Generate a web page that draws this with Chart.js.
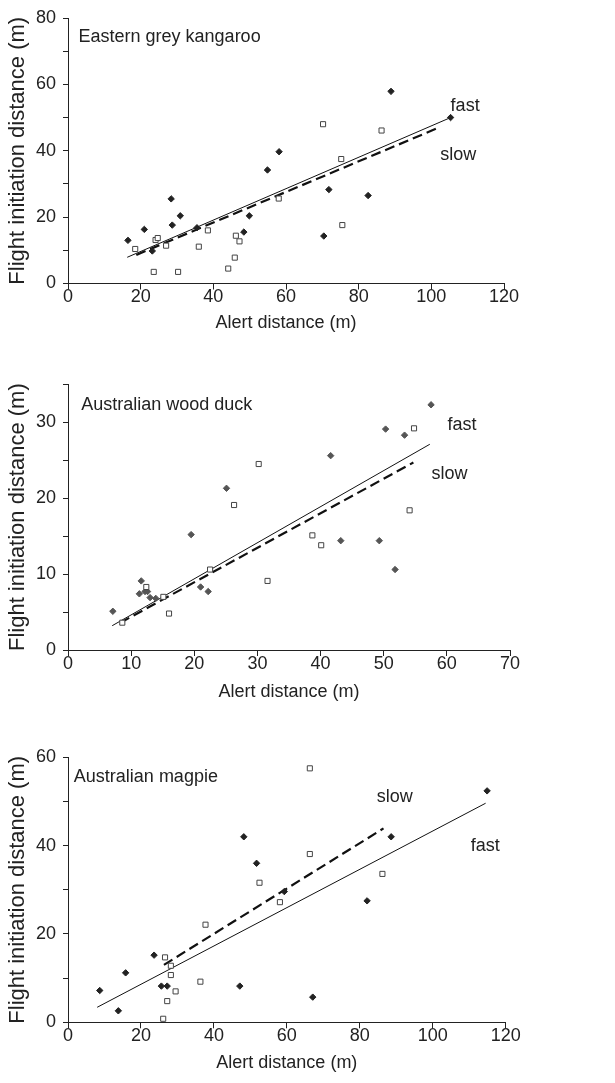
<!DOCTYPE html>
<html lang="en">
<head>
<meta charset="UTF-8">
<title>Flight initiation distance vs alert distance</title>
<script src="https://cdn.jsdelivr.net/npm/chart.js"></script>
<style>
  body { margin: 0; background: #fff; }
  .panel { position: absolute; left: 0; width: 615px; }
</style>
</head>
<body>
<div class="panel" style="top:0;height:340px"><canvas id="kangaroo"></canvas></div>
<div class="panel" style="top:340px;height:370px"><canvas id="duck"></canvas></div>
<div class="panel" style="top:710px;height:373px"><canvas id="magpie"></canvas></div>

<script>
// Eastern grey kangaroo
var kangFastX = [16.5, 21.0, 23.2, 28.4, 28.7, 30.9, 35.5, 48.4, 49.9, 54.9, 58.1, 70.4, 71.8, 82.6, 88.9, 105.3];
var kangFastY = [13.0, 16.3, 9.8, 25.5, 17.6, 20.4, 16.8, 15.5, 20.4, 34.2, 39.7, 14.3, 28.3, 26.5, 57.9, 50.0];
var kangSlowX = [18.5, 23.6, 24.1, 24.7, 27.0, 30.3, 36.0, 38.5, 44.1, 45.9, 46.2, 47.2, 58.0, 70.2, 75.2, 75.5, 86.3];
var kangSlowY = [10.4, 3.5, 13.1, 13.7, 11.4, 3.5, 11.1, 16.0, 4.5, 7.8, 14.4, 12.7, 25.6, 48.0, 37.5, 17.6, 46.1];
var kangFastFitX = [16.3, 105.3];
var kangFastFitY = [7.9, 50.0];
var kangSlowFitX = [18.8, 101.9];
var kangSlowFitY = [8.6, 46.9];

// Australian wood duck
var duckFastX = [7.1, 11.3, 11.6, 12.2, 12.6, 13.0, 13.9, 19.5, 21.0, 22.2, 25.1, 41.6, 43.2, 49.3, 50.3, 51.8, 53.3, 57.5];
var duckFastY = [5.1, 7.4, 9.1, 7.7, 7.7, 6.9, 6.8, 15.2, 8.3, 7.7, 21.3, 25.6, 14.4, 14.4, 29.1, 10.6, 28.3, 32.3];
var duckSlowX = [8.6, 12.4, 15.1, 16.0, 22.5, 26.3, 30.2, 31.6, 38.7, 40.1, 54.1, 54.8];
var duckSlowY = [3.6, 8.3, 7.0, 4.8, 10.6, 19.1, 24.5, 9.1, 15.1, 13.8, 18.4, 29.2];
var duckFastFitX = [7.0, 57.3];
var duckFastFitY = [3.2, 27.1];
var duckSlowFitX = [8.3, 54.7];
var duckSlowFitY = [3.6, 24.7];

// Australian magpie
var magFastX = [8.7, 13.8, 15.8, 23.6, 25.6, 27.2, 47.1, 48.2, 51.7, 59.3, 67.1, 82.0, 88.6, 114.9];
var magFastY = [7.2, 2.6, 11.2, 15.2, 8.2, 8.2, 8.2, 42.0, 36.0, 29.6, 5.7, 27.5, 42.0, 52.4];
var magSlowX = [26.1, 26.6, 27.2, 28.2, 28.2, 29.5, 36.3, 37.7, 52.5, 58.1, 66.3, 66.3, 86.2];
var magSlowY = [0.8, 14.7, 4.8, 12.8, 10.7, 7.0, 9.2, 22.1, 31.6, 27.2, 57.5, 38.1, 33.6];
var magFastFitX = [8.0, 114.5];
var magFastFitY = [3.4, 49.6];
var magSlowFitX = [26.3, 86.5];
var magSlowFitY = [13.0, 43.9];

var FONT = '"Liberation Sans", Arial, sans-serif';
var INK = '#222';

function pairs(xs, ys) {
    return xs.map(function (x, i) { return { x: x, y: ys[i] }; });
}

// writes the species name and the fast / slow tags inside the plot
var textLabels = {
    id: 'textLabels',
    afterDatasetsDraw: function (chart, args, opts) {
        var ctx = chart.ctx, x = chart.scales.x, y = chart.scales.y;
        ctx.save();
        ctx.font = '18px ' + FONT;
        ctx.fillStyle = INK;
        ctx.textBaseline = 'middle';
        opts.items.forEach(function (it) {
            ctx.textAlign = it.align || 'center';
            ctx.fillText(it.text, x.getPixelForValue(it.x), y.getPixelForValue(it.y));
        });
        ctx.restore();
    }
};

function makePanel(id, p) {
    new Chart(document.getElementById(id), {
        type: 'scatter',
        data: {
            datasets: [
                { label: 'fast fit', type: 'line', data: pairs(p.fastFitX, p.fastFitY),
                  borderColor: '#111', borderWidth: 1, pointRadius: 0, order: 3 },
                { label: 'slow fit', type: 'line', data: pairs(p.slowFitX, p.slowFitY),
                  borderColor: '#111', borderWidth: 2.2, borderDash: [10, 5], pointRadius: 0, order: 2 },
                { label: 'fast', data: pairs(p.fastX, p.fastY), pointStyle: 'rectRot', pointRadius: 3.2,
                  backgroundColor: p.dot, borderColor: p.dot, borderWidth: 1, order: 1 },
                { label: 'slow', data: pairs(p.slowX, p.slowY), pointStyle: 'rect', pointRadius: 3.6,
                  backgroundColor: '#fff', borderColor: '#444', borderWidth: 1, order: 0 }
            ]
        },
        options: {
            responsive: true,
            maintainAspectRatio: false,
            animation: false,
            layout: { padding: { left: 0, top: p.top, right: 615 - p.right, bottom: 0 } },
            plugins: {
                legend: { display: false },
                tooltip: { enabled: false },
                textLabels: { items: p.labels }
            },
            scales: {
                x: {
                    type: 'linear', min: 0, max: p.xMax,
                    ticks: { stepSize: p.xStep, autoSkip: false, maxRotation: 0, color: INK, padding: -1,
                             font: { family: FONT, size: 18, lineHeight: 1 } },
                    grid: { display: true, drawOnChartArea: false, drawTicks: true, tickLength: 6, color: INK },
                    border: { display: true, color: INK, width: 1 },
                    title: { display: true, text: 'Alert distance (m)', color: INK,
                             font: { family: FONT, size: 18 }, padding: { top: 0, bottom: p.xTitlePad } },
                    afterFit: function (s) { s.height = p.xH; }
                },
                y: {
                    type: 'linear', min: 0, max: p.yMax,
                    ticks: { stepSize: p.yStep, autoSkip: false, color: INK, padding: 7,
                             font: { family: FONT, size: 18 },
                             callback: function (v) { return v % p.yLabelStep === 0 ? v : ''; } },
                    grid: { display: true, drawOnChartArea: false, drawTicks: true, tickLength: 5, color: INK },
                    border: { display: true, color: INK, width: 1 },
                    title: { display: true, text: 'Flight initiation distance (m)', color: INK,
                             font: { family: FONT, size: 22 }, padding: { top: 5, bottom: 0 } },
                    afterFit: function (s) { s.width = 68; }
                }
            }
        },
        plugins: [textLabels]
    });
}

makePanel('kangaroo', {
    fastX: kangFastX, fastY: kangFastY, slowX: kangSlowX, slowY: kangSlowY,
    fastFitX: kangFastFitX, fastFitY: kangFastFitY, slowFitX: kangSlowFitX, slowFitY: kangSlowFitY,
    dot: '#222', xMax: 120, xStep: 20, yMax: 80, yStep: 10, yLabelStep: 20,
    top: 18, right: 504, xH: 56.5, xTitlePad: 6,
    labels: [
        { text: 'Eastern grey kangaroo', x: 2.9, y: 74.3, align: 'left' },
        { text: 'fast', x: 109.3, y: 53.4 },
        { text: 'slow', x: 107.4, y: 38.7 }
    ]
});

makePanel('duck', {
    fastX: duckFastX, fastY: duckFastY, slowX: duckSlowX, slowY: duckSlowY,
    fastFitX: duckFastFitX, fastFitY: duckFastFitY, slowFitX: duckSlowFitX, slowFitY: duckSlowFitY,
    dot: '#555', xMax: 70, xStep: 10, yMax: 35, yStep: 5, yLabelStep: 10,
    top: 44.3, right: 510, xH: 60, xTitlePad: 7,
    labels: [
        { text: 'Australian wood duck', x: 2.1, y: 32.3, align: 'left' },
        { text: 'fast', x: 62.4, y: 29.6 },
        { text: 'slow', x: 60.4, y: 23.2 }
    ]
});

makePanel('magpie', {
    fastX: magFastX, fastY: magFastY, slowX: magSlowX, slowY: magSlowY,
    fastFitX: magFastFitX, fastFitY: magFastFitY, slowFitX: magSlowFitX, slowFitY: magSlowFitY,
    dot: '#222', xMax: 120, xStep: 20, yMax: 60, yStep: 10, yLabelStep: 20,
    top: 47.3, right: 505.7, xH: 60.7, xTitlePad: 9,
    labels: [
        { text: 'Australian magpie', x: 1.6, y: 55.5, align: 'left' },
        { text: 'slow', x: 89.6, y: 50.9 },
        { text: 'fast', x: 114.4, y: 39.8 }
    ]
});
</script>
</body>
</html>
